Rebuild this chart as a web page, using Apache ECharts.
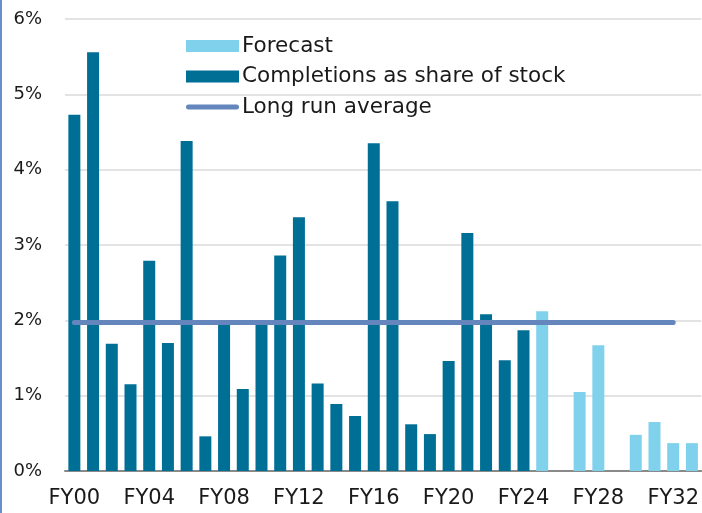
<!DOCTYPE html>
<html>
<head>
<meta charset="utf-8">
<script src="https://cdn.jsdelivr.net/npm/echarts@6/dist/echarts.min.js"></script>
<style>
html,body{margin:0;padding:0;background:#fff;}
#chart{width:702px;height:513px;}
</style>
</head>
<body>
<div id="chart"></div>
<script>
var categories = ['FY00','FY01','FY02','FY03','FY04','FY05','FY06','FY07','FY08','FY09',
  'FY10','FY11','FY12','FY13','FY14','FY15','FY16','FY17','FY18','FY19',
  'FY20','FY21','FY22','FY23','FY24','FY25','FY26','FY27','FY28','FY29',
  'FY30','FY31','FY32','FY33'];
var completions = [4.73,5.56,1.69,1.15,2.79,1.70,4.38,0.46,1.97,1.09,
  1.97,2.86,3.37,1.16,0.89,0.73,4.35,3.58,0.62,0.49,
  1.46,3.16,2.08,1.47,1.87,null,null,null,null,null,
  null,null,null,null];
var forecast = [null,null,null,null,null,null,null,null,null,null,
  null,null,null,null,null,null,null,null,null,null,
  null,null,null,null,null,2.12,null,1.05,1.67,null,
  0.48,0.65,0.37,0.37];
var longRunAverage = [1.97,1.97,1.97,1.97,1.97,1.97,1.97,1.97,1.97,1.97,
  1.97,1.97,1.97,1.97,1.97,1.97,1.97,1.97,1.97,1.97,
  1.97,1.97,1.97,1.97,1.97,1.97,1.97,1.97,1.97,1.97,
  1.97,1.97,1.97,null];

var FONT = '"DejaVu Sans", sans-serif';
var chart = echarts.init(document.getElementById('chart'), null, {renderer:'canvas'});
chart.setOption({
  animation:false,
  backgroundColor:'#ffffff',
  graphic:[{type:'rect', left:0, top:0, shape:{width:2, height:513}, style:{fill:'#6B8DC8'}, z:-1}],
  grid:{left:65, right:0, top:19, bottom:42},
  legend:{
    orient:'vertical', left:181, top:26, itemWidth:53, itemHeight:12, itemGap:0.5,
    textStyle:{fontFamily:FONT, fontSize:21.5, color:'#1a1a1a', lineHeight:30, padding:[0,0,0,-2]},
    data:[
      {name:'Forecast', icon:'rect'},
      {name:'Completions as share of stock', icon:'rect'},
      {name:'Long run average', icon:'path://M2.5,0h48a2.5,2.5 0 0 1 0,5h-48a2.5,2.5 0 0 1 0,-5z',
        itemStyle:{color:'#6585BD'}}
    ]
  },
  xAxis:{
    type:'category', data:categories, boundaryGap:true,
    axisLine:{lineStyle:{color:'#8a8a8a', width:2}},
    axisTick:{interval:3, length:7, lineStyle:{color:'#8a8a8a', width:2}},
    axisLabel:{interval:3, margin:17, fontFamily:FONT, fontSize:21, color:'#1a1a1a'}
  },
  yAxis:{
    type:'value', min:0, max:6, interval:1,
    axisLine:{show:false}, axisTick:{show:false},
    splitLine:{lineStyle:{color:'#dadada', width:1.5}},
    axisLabel:{formatter:'{value}%', margin:23, fontFamily:FONT, fontSize:18, color:'#1a1a1a'}
  },
  series:[
    {name:'Forecast', type:'bar', data:forecast, barWidth:12, barGap:'-100%',
      itemStyle:{color:'#80D2EC'}},
    {name:'Completions as share of stock', type:'bar', data:completions, barWidth:12, barGap:'-100%',
      itemStyle:{color:'#006F96'}},
    {name:'Long run average', type:'line', data:longRunAverage, symbol:'none', z:5,
      lineStyle:{color:'#6585BD', width:5, cap:'round'}, itemStyle:{color:'#6585BD'}}
  ]
});
</script>
</body>
</html>
